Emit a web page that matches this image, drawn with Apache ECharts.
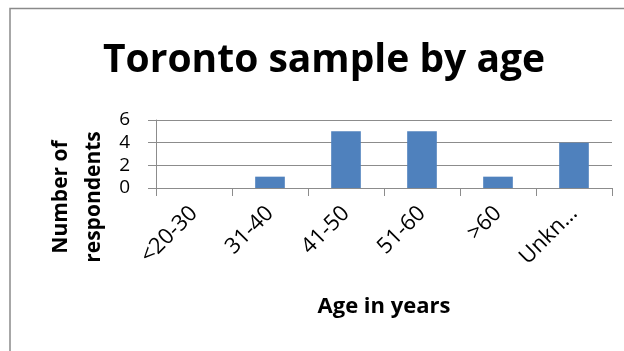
<!DOCTYPE html>
<html>
<head>
<meta charset="utf-8">
<script src="https://cdn.jsdelivr.net/npm/echarts@6/dist/echarts.min.js"></script>
<style>
  html, body { margin: 0; padding: 0; background: #fff; }
  #chart { width: 624px; height: 351px; }
</style>
</head>
<body>
<div id="chart"></div>
<script>
// Age groups and respondent counts
const ageGroups = ['<20-30', '31-40', '41-50', '51-60', '>60', 'Unkn…'];
const respondents = [0, 1, 5, 5, 1, 4];
const yTicks = { min: 0, max: 6, interval: 2 };

const FONT = '"Open Sans", Lato, sans-serif';
const GRID_COLOR = '#8c8c8c';

const chart = echarts.init(document.getElementById('chart'), null, { renderer: 'canvas' });

chart.setOption({
  animation: false,
  backgroundColor: '#fff',
  textStyle: { fontFamily: FONT },
  title: {
    text: 'Toronto sample by age',
    left: 319,
    textAlign: 'center',
    top: 36,
    textStyle: { fontFamily: FONT, fontWeight: 'bold', fontSize: 39, color: '#000' }
  },
  grid: { left: 156, right: 12, top: 120, bottom: 163, containLabel: false },
  xAxis: {
    type: 'category',
    data: ageGroups,
    name: 'Age in years',
    nameLocation: 'middle',
    nameGap: 108,
    nameTextStyle: { fontFamily: FONT, fontWeight: 'bold', fontSize: 22, color: '#000' },
    axisLine: { lineStyle: { color: GRID_COLOR, width: 1 } },
    axisTick: { show: true, alignWithLabel: false, length: 8, lineStyle: { color: GRID_COLOR } },
    axisLabel: { rotate: 45, margin: 22, fontSize: 22, color: '#000', fontFamily: FONT, interval: 0 }
  },
  yAxis: {
    type: 'value',
    min: yTicks.min,
    max: yTicks.max,
    interval: yTicks.interval,
    axisLine: { show: true, lineStyle: { color: GRID_COLOR, width: 1 } },
    axisTick: { show: true, length: 8, lineStyle: { color: GRID_COLOR } },
    splitLine: { show: true, lineStyle: { color: GRID_COLOR, width: 1 } },
    axisLabel: { margin: 26, fontSize: 19, color: '#000', fontFamily: FONT }
  },
  series: [{
    type: 'bar',
    data: respondents,
    barWidth: '39%',
    itemStyle: { color: '#4F81BD' }
  }],
  graphic: [
    {
      // outer chart frame
      type: 'rect',
      shape: { x: 10, y: 8.5, width: 700, height: 400 },
      style: { fill: 'none', stroke: '#8a8a8a', lineWidth: 1.5 },
      silent: true
    },
    {
      type: 'text',
      x: 78, y: 197,
      rotation: Math.PI / 2,
      style: {
        text: 'Number of\nrespondents',
        fontFamily: FONT, fontWeight: 'bold', fontSize: 21, 
        fill: '#000', align: 'center', verticalAlign: 'middle', lineHeight: 33
      }
    }
  ]
});
</script>
</body>
</html>
